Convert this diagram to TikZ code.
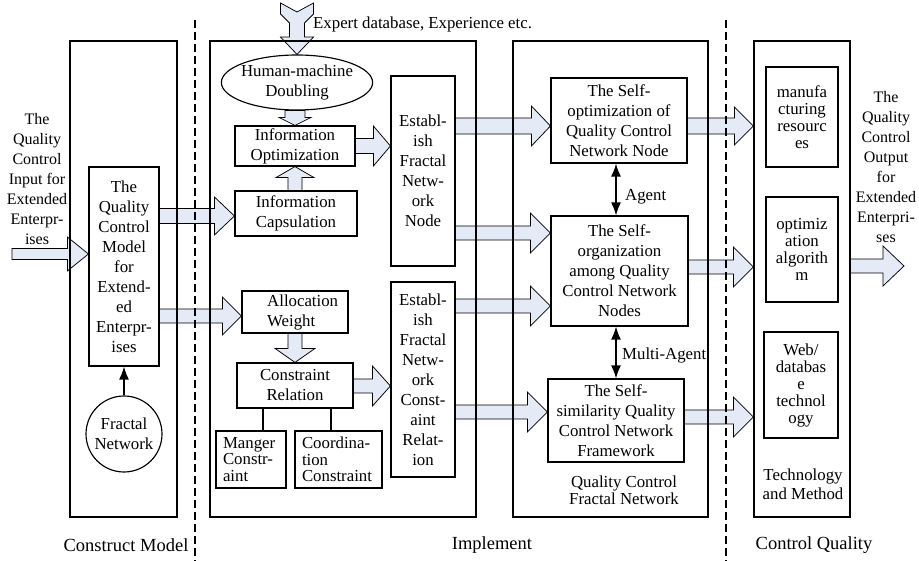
\documentclass[tikz,border=0pt]{standalone}
\usepackage{fontspec}
\setmainfont{Liberation Serif}
\usetikzlibrary{arrows.meta,calc,backgrounds,shapes.geometric}
\definecolor{arrowfill}{RGB}{228,234,246}

\tikzset{
  txt/.style={font=\fontsize{16.8}{20}\selectfont},
  box/.style={txt, draw, line width=1.15pt, align=center, inner sep=0pt},
  rbox/.style={box, font=\fontsize{16.8}{17}\selectfont},
  smallbox/.style={draw, line width=1.15pt, align=left, inner xsep=7pt, inner ysep=0pt,
    font=\fontsize{16.8}{16.5}\selectfont},
  frame/.style={draw, line width=1.15pt, inner sep=0pt},
  lbl/.style={txt, align=center, inner sep=0pt},
  sidelbl/.style={lbl, font=\fontsize{16}{20}\selectfont},
  stagelbl/.style={lbl, font=\fontsize{18.5}{22}\selectfont},
  blockarrow/.style={draw=black, line width=0.75pt, fill=arrowfill, line join=miter},
  divider/.style={line width=1.7pt, dash pattern=on 8pt off 4pt},
  linkarrow/.style={line width=1.3pt, {Latex[length=13pt,width=10pt]}-{Latex[length=13pt,width=10pt]}},
  onearrow/.style={line width=1.3pt, -{Latex[length=13pt,width=10pt]}},
}

% horizontal block arrow: from, to, y, shaft half width, head half width, head length
\newcommand\harrow[6]{%
  \draw[blockarrow] let \p1=(#1), \p2=(#2), \p3=(0,#3) in
    (\x1,{\y3+#4pt}) -- ({\x2-#6pt},{\y3+#4pt}) -- ({\x2-#6pt},{\y3+#5pt}) -- (\x2,\y3)
    -- ({\x2-#6pt},{\y3-#5pt}) -- ({\x2-#6pt},{\y3-#4pt}) -- (\x1,{\y3-#4pt}) -- cycle;}

% vertical block arrow: from, to, shaft half width, head half width, head length, direction (1 down, -1 up)
\newcommand\varrow[6]{%
  \draw[blockarrow] let \p1=(#1), \p2=(#2) in
    ({\x2-#3pt},\y1) -- ({\x2-#3pt},{\y2+(#6)*#5pt}) -- ({\x2-#4pt},{\y2+(#6)*#5pt}) -- (\x2,\y2)
    -- ({\x2+#4pt},{\y2+(#6)*#5pt}) -- ({\x2+#3pt},{\y2+(#6)*#5pt}) -- ({\x2+#3pt},\y1) -- cycle;}

\begin{document}
\begin{tikzpicture}[x=1pt,y=-1pt]
\useasboundingbox (0,0) rectangle (919,561);

% stage frames
\node[frame, minimum width=107, minimum height=476] (fModel) at (123.5,279) {};
\node[frame, minimum width=266, minimum height=476] (fImpl)  at (343,279) {};
\node[frame, minimum width=195, minimum height=476] (fQCFN)  at (610.5,279) {};
\node[frame, minimum width=96,  minimum height=476] (fTech)  at (802,279) {};

% construct model
\node[box, minimum width=70, minimum height=199] (model) at (124,266.5)
  {The\\Quality\\Control\\Model\\for\\Extend-\\ed\\Enterpr-\\ises};
\node[box, circle, minimum size=76] (fractal) at (124,434) {Fractal\\Network};

% implement
\node[box, ellipse, minimum width=140, minimum height=55, inner sep=-2.5pt] (hm) at (297,82.5)
  {Human-machine\\Doubling};
\node[box, minimum width=120, minimum height=40] (infoopt) at (295,146) {Information\\Optimization};
\node[box, minimum width=122, minimum height=45] (infocap) at (296,213.5) {Information\\Capsulation};
\node[box, minimum width=64, minimum height=190] (estnode) at (423,171)
  {Establ-\\ish\\Fractal\\Netw-\\ork\\Node};
\node[box, minimum width=64, minimum height=195] (estcons) at (423,379.5)
  {Establ-\\ish\\Fractal\\Netw-\\ork\\Const-\\aint\\Relat-\\ion};
\node[box, minimum width=106, minimum height=42] (weight) at (295,312) {};
\node[lbl, anchor=west, align=left] (weighttxt) at (267,312) {Allocation\\Weight};
\node[box, minimum width=116, minimum height=45] (cons) at (295,385.5) {Constraint\\Relation};
\node[smallbox, text width=56, minimum height=57] (manger) at (251,459.5) {Manger\\Constr-\\aint};
\node[smallbox, text width=73, minimum height=57] (coord) at (338.5,459.5) {Coordina-\\tion\\Constraint};

% quality control fractal network
\node[box, minimum width=136, minimum height=85] (selfopt) at (619,120.5)
  {The Self-\\optimization of\\Quality Control\\Network Node};
\node[box, minimum width=137, minimum height=110] (selforg) at (619.5,271)
  {The Self-\\organization\\among Quality\\Control Network\\Nodes};
\node[box, minimum width=136, minimum height=83] (selfsim) at (616,420.5)
  {The Self-\\similarity Quality\\Control Network\\Framework};

% technology and method
\node[rbox, minimum width=72, minimum height=100] (manu) at (802,117) {manufa\\cturing\\resourc\\es};
\node[rbox, minimum width=72, minimum height=105] (algo) at (802,249.5) {optimiz\\ation\\algorith\\m};
\node[rbox, minimum width=74, minimum height=106] (web) at (801,385) {Web/\\databas\\e\\technol\\ogy};

% labels
\node[sidelbl] (input) at (37,179) {The\\Quality\\Control\\Input for\\Extended\\Enterpr-\\ises};
\node[sidelbl] (output) at (886,167) {The\\Quality\\Control\\Output\\for\\Extended\\Enterpri-\\ses};
\node[lbl, anchor=west] (expert) at (313,24) {Expert database, Experience etc.};
\node[lbl, anchor=west] (agent) at (625,197) {Agent};
\node[lbl, anchor=west] (multi) at (622,355) {Multi-Agent};
\node[lbl, font=\fontsize{16.8}{17}\selectfont] (qcfn) at (624,490.5) {Quality Control\\Fractal Network};
\node[lbl, font=\fontsize{16.8}{19}\selectfont] (tech) at (803,484.5) {Technology\\and Method};
\node[stagelbl] (stage1) at (126,545) {Construct Model};
\node[stagelbl] (stage2) at (492,545) {Implement};
\node[stagelbl] (stage3) at (814,545) {Control Quality};

\coordinate (inStart) at (12,254);
\coordinate (outTip) at (904,266);
\coordinate (expTop) at (297,3);

% block arrows, behind the frames and dividers
\begin{scope}[on background layer]
  \harrow{inStart}{model.west}{254}{5.5}{17}{21}
  \harrow{model.east}{infocap.west}{216}{7.5}{19}{20}
  \harrow{model.east}{weight.west}{316}{7}{19}{19}
  \harrow{infoopt.east}{estnode.west}{146}{7.5}{20}{17}
  \harrow{cons.east}{estcons.west}{386}{7}{20}{18}
  \harrow{estnode.east}{selfopt.west}{126}{8}{20}{19}
  \harrow{estnode.east}{selforg.west}{233}{7}{20}{20}
  \harrow{estcons.east}{selforg.west}{306}{7}{20}{20}
  \harrow{estcons.east}{selfsim.west}{412}{7}{20}{20}
  \harrow{selfopt.east}{fTech.west}{126}{8}{19}{19}
  \harrow{selforg.east}{fTech.west}{267}{7}{20}{20}
  \harrow{selfsim.east}{fTech.west}{417}{7}{20}{20}
  \harrow{fTech.east}{outTip}{266}{7}{20}{21}
  \varrow{hm.south}{infoopt.north}{10}{16}{8}{1}
  \varrow{infocap.north}{infoopt.south}{7}{19}{11}{-1}
  \varrow{weight.south}{cons.north}{7}{20}{14}{1}
  \draw[blockarrow] ($(expTop)+(-16.5,0)$) -- ($(expTop)+(0,9)$) -- ($(expTop)+(16.5,0)$)
    -- ($(expTop)+(16.5,11)$) -- ($(expTop)+(7.5,20)$) -- ($(expTop)+(7.5,34)$)
    -- ($(expTop)+(16.5,34)$) -- (hm.north) -- ($(expTop)+(-16.5,34)$)
    -- ($(expTop)+(-7.5,34)$) -- ($(expTop)+(-7.5,20)$) -- ($(expTop)+(-16.5,11)$) -- cycle;
\end{scope}

% plain connectors
\draw[onearrow] (fractal.north) -- (model.south);
\draw[linkarrow] ([xshift=-3pt]selfopt.south) -- ([xshift=-3.5pt]selforg.north);
\draw[linkarrow] (selforg.south -| selfsim.north) -- (selfsim.north);
\coordinate (mA) at ($(manger.north)+(12,0)$);
\coordinate (cA) at ($(coord.north)+(-7.5,0)$);
\draw[line width=1.15pt] (mA) -- (mA |- cons.south);
\draw[line width=1.15pt] (cA) -- (cA |- cons.south);

% stage dividers
\draw[divider] (195,20) -- (195,561);
\draw[divider] (726,20) -- (726,561);
\end{tikzpicture}
\end{document}
